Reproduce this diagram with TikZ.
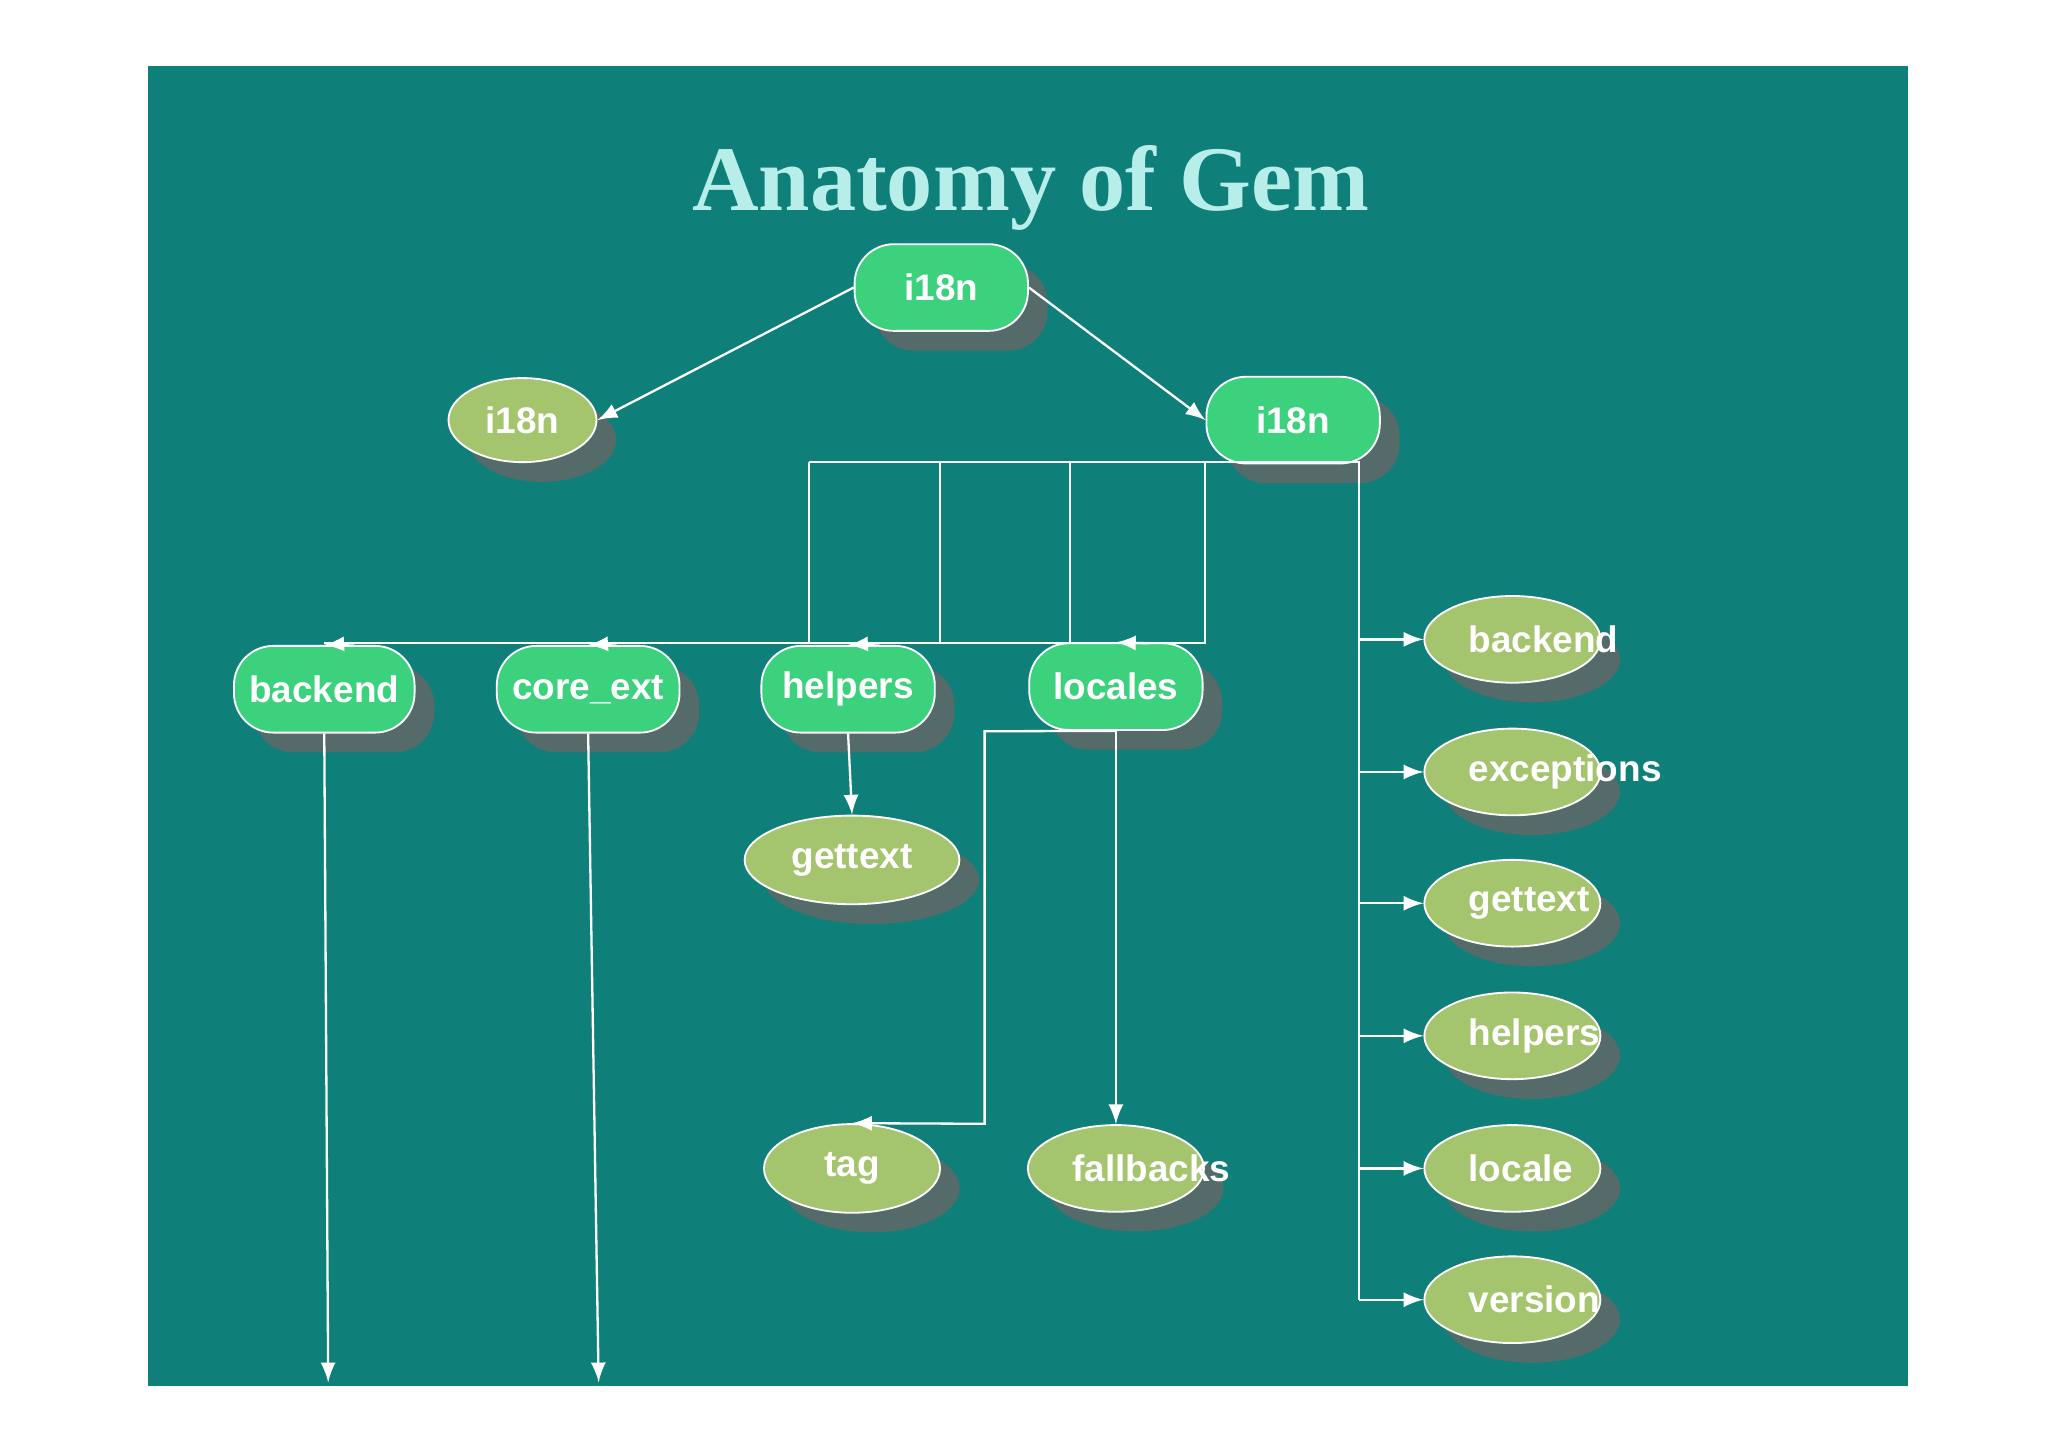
\documentclass[tikz,border=0pt]{standalone}
\usepackage{fontspec}
\setmainfont{Liberation Sans}
\usetikzlibrary{shapes.geometric,shadows}
\definecolor{slidebg}{HTML}{0F7F79}
\definecolor{boxgreen}{HTML}{3CD17D}
\definecolor{olive}{HTML}{A5C46E}
\definecolor{titlecol}{HTML}{B8EEEA}
\begin{document}
\begin{tikzpicture}[x=0.01cm, y=-0.01cm,
  box/.style={rounded corners=0.3cm, draw=white, fill=boxgreen, minimum width=1.32cm, minimum height=0.66cm, text=white, font=\bfseries\fontsize{8}{9}\selectfont, drop shadow={shadow xshift=0.15cm, shadow yshift=-0.15cm, fill=gray!80!black, opacity=0.8}},
  leaf/.style={ellipse, draw=white, fill=olive, minimum width=1.34cm, minimum height=0.66cm, text=white, font=\bfseries\fontsize{8}{9}\selectfont, drop shadow={shadow xshift=0.15cm, shadow yshift=-0.15cm, fill=gray!80!black, opacity=0.8}},
  lbl/.style={text=white, font=\bfseries\fontsize{8}{9}\selectfont, anchor=west, inner sep=0pt},
  wire/.style={draw=white, line width=0.5pt},
  arr/.style={wire, -latex}]
  \useasboundingbox (0,0) rectangle (1560,1102);
  \fill[slidebg] (113,50) rectangle (1453,1056);
  \node[text=titlecol, font=\bfseries\fontsize{20}{22}\selectfont] (title) at (785,143) {\fontspec{Liberation Serif}Anatomy of Gem};
  % tree
  \node[box] (root) at (717,219) {i18n};
  \node[leaf, minimum width=1.0cm, minimum height=0.64cm] (lib) at (398,320) {i18n};
  \node[box] (mod) at (985,320) {i18n};
  \node[box] (backend) at (247,525) {backend};
  \node[box] (coreext) at (448,525) {core\_ext};
  \node[box] (helpers) at (646,525) {helpers};
  \node[box] (locales) at (850,523) {locales};
  \node[leaf] (hgettext) at (649,655) {gettext};
  \node[leaf] (tag) at (649,890) {tag};
  \node[leaf] (fallbacks) at (850,890) {};
  \node[lbl] at (816,890) {fallbacks};
  \foreach \y/\n/\t in {487/rbackend/backend, 588/rexc/exceptions, 688/rgettext/gettext, 789/rhelpers/helpers, 890/rlocale/locale, 990/rversion/version} {
    \node[leaf] (\n) at (1152,\y) {};
    \node[lbl] at (1118,\y) {\t};
    \draw[arr] (1035,\y) -- (\n.west);
  }
  % connectors
  \draw[arr] (root.west) -- (lib.east);
  \draw[arr] (root.east) -- (mod.west);
  \draw[wire] (616,352) -- (1035,352) -- (1035,990);
  \draw[wire] (616,352) -- (616,490) (716,352) -- (716,490) (815,352) -- (815,490);
  \draw[wire] (918,352) -- (918,490) -- (247,490);
  \draw[arr] (270,490) -- (backend.north);
  \draw[arr] (470,490) -- (coreext.north);
  \draw[arr] (670,490) -- (helpers.north);
  \draw[arr] (875,490) -- (locales.north);
  \draw[arr] (helpers.south) -- (hgettext.north);
  \draw[arr] (locales.south) -- (fallbacks.north);
  \draw[arr] (locales.south) -- (750,557) -- (750,856) -- (tag.north);
  \coordinate (bend) at (250,1053);
  \coordinate (cend) at (456,1053);
  \draw[arr] (backend.south) -- (bend);
  \draw[arr] (coreext.south) -- (cend);
\end{tikzpicture}
\end{document}
